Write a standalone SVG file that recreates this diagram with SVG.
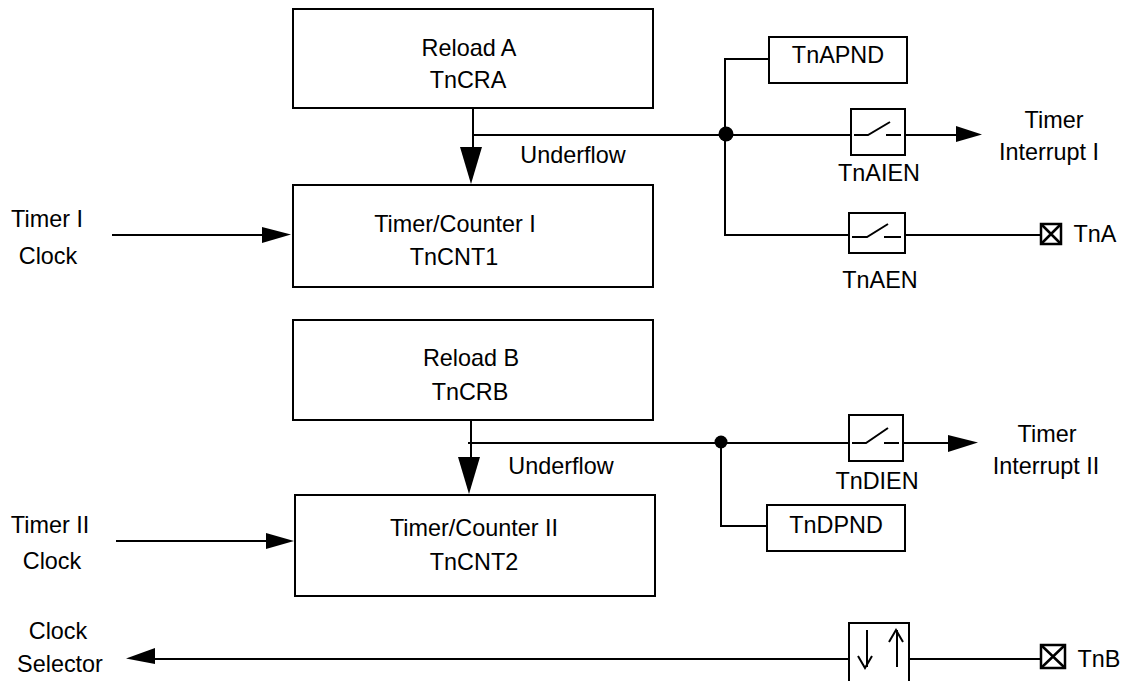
<svg xmlns="http://www.w3.org/2000/svg" width="1124" height="681" viewBox="0 0 1124 681">
<style>
text{font-family:"Liberation Sans",Arial,sans-serif;font-size:23.4px;fill:#000;text-anchor:middle}
.b{fill:none;stroke:#000;stroke-width:2}
.l{fill:none;stroke:#000;stroke-width:2}
.p{fill:none;stroke:#000;stroke-width:2.500}
.a{fill:#000;stroke:none}
</style>
<rect width="1124" height="681" fill="#fff"/>
<g id="connectors">
<path class="l" d="M473 108V147M473 135H851M905 135H957"/>
<path class="a" d="M460 147H482L471 184Z"/>
<path class="a" d="M956 126L982 134.500L956 142Z"/>
<path class="l" d="M769 59H725V235H849M905 235H1041"/>
<circle cx="726" cy="134" r="7.500" class="a"/>
<path class="l" d="M112 235H263"/><path class="a" d="M262 227L291 234.500L262 243Z"/>
<path class="l" d="M471 420V458M468 443H849M903 443H949"/>
<path class="a" d="M458 457H480L469 494Z"/>
<path class="a" d="M948 435L978 442.500L948 452Z"/>
<circle cx="721" cy="442" r="6.500" class="a"/>
<path class="l" d="M721 443V526H767"/>
<path class="l" d="M116 541H267"/><path class="a" d="M266 533L294 541L266 549Z"/>
<path class="l" d="M155 659H849M909 659H1041"/>
<path class="a" d="M155 648L126 658.500L155 664Z"/>
</g>
<g id="reload-a"><rect class="b" x="293" y="9" width="360" height="99"/><text x="469" y="56">Reload A</text><text x="468" y="88">TnCRA</text></g>
<g id="timer-counter-1"><rect class="b" x="293" y="185" width="360" height="102"/><text x="455" y="232">Timer/Counter I</text><text x="454" y="265">TnCNT1</text></g>
<g id="reload-b"><rect class="b" x="293" y="320" width="360" height="100"/><text x="471" y="366">Reload B</text><text x="470" y="400">TnCRB</text></g>
<g id="timer-counter-2"><rect class="b" x="295" y="495" width="360" height="101"/><text x="474" y="536">Timer/Counter II</text><text x="474" y="570">TnCNT2</text></g>
<g id="tnapnd"><rect class="b" x="769" y="37" width="138" height="46"/><text x="838" y="63">TnAPND</text></g>
<g id="tndpnd"><rect class="b" x="767" y="505" width="138" height="46"/><text x="836" y="533">TnDPND</text></g>
<g id="tnaien"><rect class="b" x="851" y="109" width="54" height="46"/><path class="l" d="M854 135H868L890 122M886 135H901"/><text x="879" y="181">TnAIEN</text></g>
<g id="tnaen"><rect class="b" x="849" y="213" width="56" height="40"/><path class="l" d="M852 237H867L888 224M884 237H901"/><text x="880" y="288">TnAEN</text></g>
<g id="tndien"><rect class="b" x="849" y="415" width="54" height="46"/><path class="l" d="M852 443H866L888 428M884 443H899"/><text x="877" y="489">TnDIEN</text></g>
<g id="direction"><path class="b" d="M849 681V623H909V681"/><path class="l" d="M867 630V667M858 656L865 668L872 656M897 667V630M889 642L896 630L903 642"/></g>
<g id="pin-tna"><rect class="p" x="1041" y="224" width="20" height="20"/><path class="p" d="M1041 224L1061 244M1061 224L1041 244"/><text x="1095" y="242">TnA</text></g>
<g id="pin-tnb"><rect class="p" x="1041" y="645" width="24" height="23"/><path class="p" d="M1041 645L1065 668M1065 645L1041 668"/><text x="1099" y="667">TnB</text></g>
<g id="labels">
<text x="573" y="163">Underflow</text><text x="561" y="474">Underflow</text>
<text x="1054" y="128">Timer</text><text x="1049" y="160">Interrupt I</text>
<text x="1047" y="442">Timer</text><text x="1046" y="474">Interrupt II</text>
<text x="47" y="227">Timer I</text><text x="48" y="264">Clock</text>
<text x="50" y="533">Timer II</text><text x="52" y="569">Clock</text>
<text x="58" y="639">Clock</text><text x="60" y="672">Selector</text>
</g>
</svg>
